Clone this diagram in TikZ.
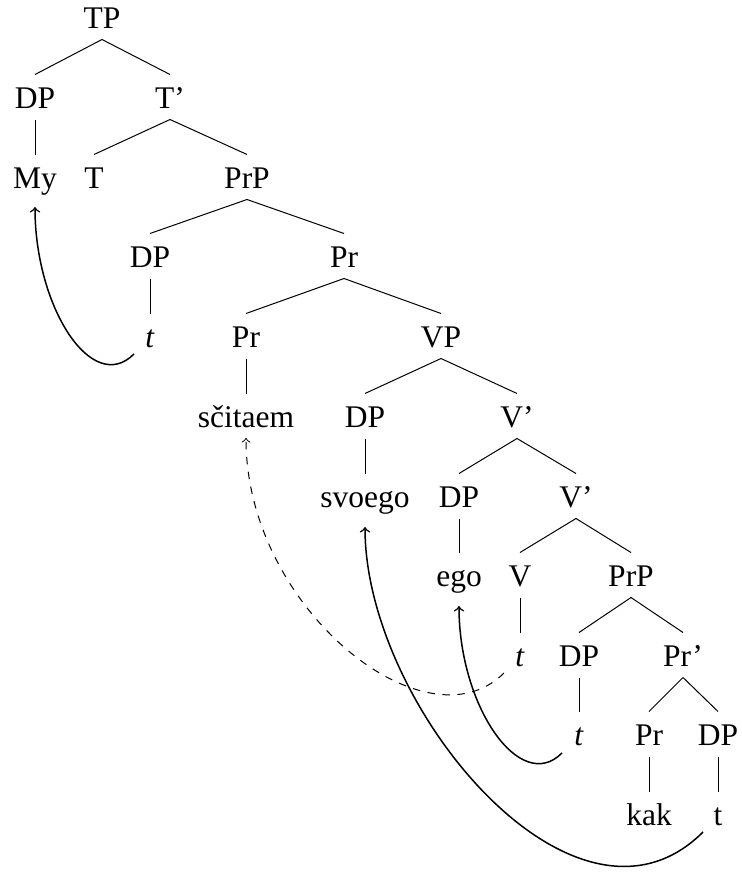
\documentclass[tikz,border=0pt]{standalone}
\usepackage{fontspec}
\setmainfont{Liberation Serif}
\usetikzlibrary{calc}

\begin{document}
\begin{tikzpicture}[x=0.4pt,y=0.4pt,font=\fontsize{12.6}{15}\selectfont,
  every node/.style={anchor=base,text height=13.2pt,text depth=4.4pt,inner ysep=0pt}]
 \useasboundingbox (0,0) rectangle (741,-873);
 \node (tp) at (102,-28) {TP}; %根
 \node (dpmy) at (35,-108) {DP};
 \node (tbar) at (170,-108) {T'};
 \node (my) at (35,-188) {My};
 \node (thead) at (94,-188) {T};
 \node (prp) at (247,-188) {PrP};
 \node (dpsubj) at (150,-267) {DP};
 \node (prbar) at (344,-267) {Pr};
 \node (trace1) at (150,-347) {\textit{t}};
 \node (prhead) at (246,-347) {Pr};
 \node (vp) at (441,-347) {VP};
 \node (verb) at (246,-427) {sčitaem};
 \node (dpposs) at (365,-427) {DP};
 \node (vbar1) at (517,-427) {V'};
 \node (svoego) at (365,-507) {svoego};
 \node (dpobj) at (459,-507) {DP};
 \node (vbar2) at (576,-507) {V'};
 \node (ego) at (459,-586) {ego};
 \node (vhead) at (520,-586) {V};
 \node (prp2) at (631,-586) {PrP};
 \node (trace2) at (520,-666) {\textit{t}};
 \node (dptr) at (579,-666) {DP};
 \node (prbar2) at (683,-666) {Pr'};
 \node (trace3) at (579,-745) {\textit{t}};
 \node (prhead2) at (649,-745) {Pr};
 \node (dpkak) at (718,-745) {DP};
 \node (kak) at (649,-825) {kak};
 \node (trace4) at (718,-825) {t};

 \foreach \a/\b in {tp/dpmy,tp/tbar,dpmy/my,tbar/thead,tbar/prp,prp/dpsubj,prp/prbar,
   dpsubj/trace1,prbar/prhead,prbar/vp,prhead/verb,vp/dpposs,vp/vbar1,dpposs/svoego,
   vbar1/dpobj,vbar1/vbar2,dpobj/ego,vbar2/vhead,vbar2/prp2,vhead/trace2,prp2/dptr,
   prp2/prbar2,dptr/trace3,prbar2/prhead2,prbar2/dpkak,prhead2/kak,dpkak/trace4}
   \draw (\a.south)--(\b.north); %枝

 \draw[semithick,->,>=to] ($(trace1.base)+(-16,-7)$)
   .. controls +(-42,-42) and +(0,-100) .. ($(my.base)+(0,-19)$); %移動
 \draw[dashed,->,>=to] ($(trace2.base)+(-16,-7)$)
   .. controls +(-78,-78) and +(0,-170) .. ($(verb.base)+(0,-11)$);
 \draw[semithick,->,>=to] ($(trace3.base)+(-17,-8)$)
   .. controls +(-42,-42) and +(0,-100) .. ($(ego.base)+(0,-20)$);
 \draw[semithick,->,>=to] ($(trace4.base)+(-15,-7)$)
   .. controls +(-127,-127) and +(0,-180) .. ($(svoego.base)+(0,-20)$);
\end{tikzpicture}
\end{document}
